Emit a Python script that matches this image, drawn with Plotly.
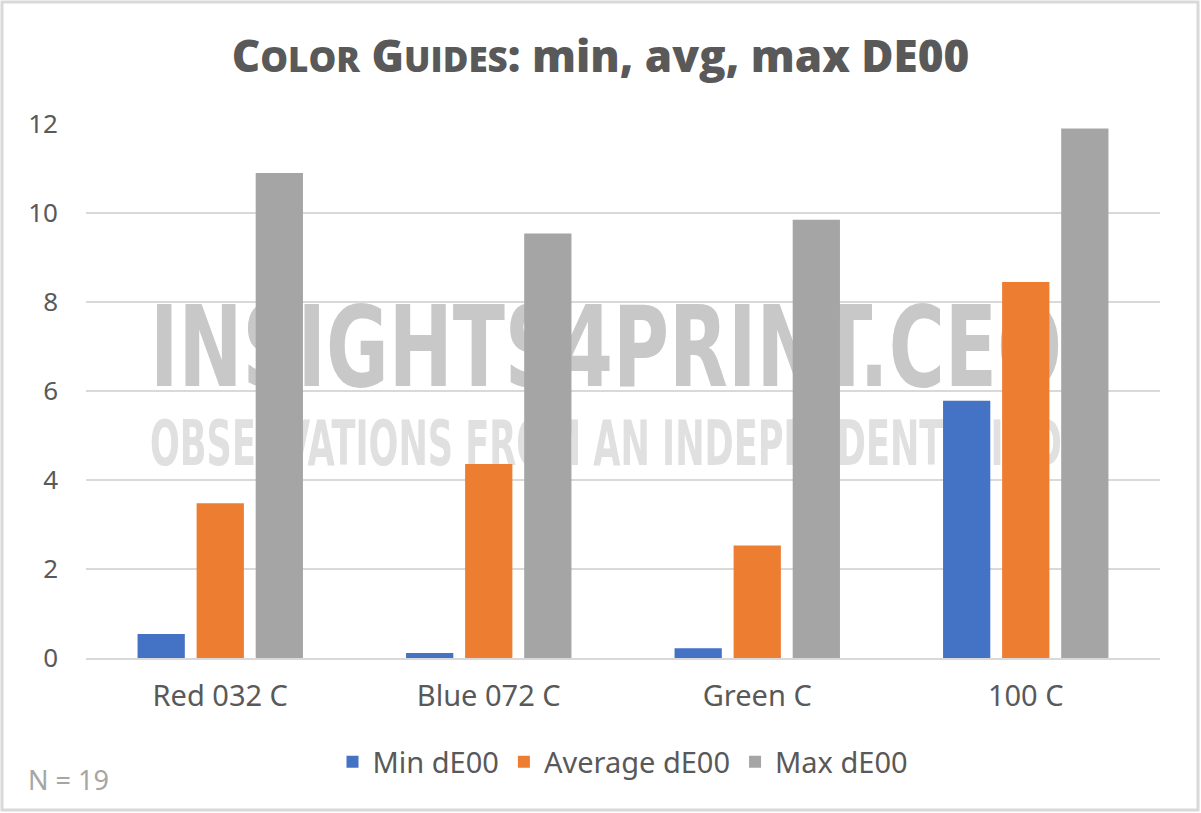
import plotly.graph_objects as go
import urllib.parse

categories = ["Red 032 C", "Blue 072 C", "Green C", "100 C"]
min_de00 = [0.54, 0.11, 0.22, 5.78]
avg_de00 = [3.48, 4.36, 2.53, 8.45]
max_de00 = [10.9, 9.54, 9.85, 11.9]
series_names = ["Min dE00", "Average dE00", "Max dE00"]
colors = ["#4472C4", "#ED7D31", "#A5A5A5"]

W, H = 1201, 813
L, R, T, B = 86, 41, 124, 155
pw, ph = W - L - R, H - T - B

def px_x(p):
    return (p - L) / pw

def px_y(p):
    return (H - B - p) / ph

fig = go.Figure()
for name, vals, c in zip(series_names, [min_de00, avg_de00, max_de00], colors):
    fig.add_trace(go.Bar(x=categories, y=vals, name=name, marker=dict(color=c, line=dict(width=0))))

txt_font = "Noto Sans, Open Sans, sans-serif"
grey = "#595959"

title_text = ("C<span style='font-size:35px'>OLOR</span> G<span style='font-size:35px'>UIDES</span>"
              ": min, avg, max DE00")

svg = (
    "<svg xmlns='http://www.w3.org/2000/svg' width='912' height='172' viewBox='0 0 912 172' preserveAspectRatio='none'>"
    "<text x='0' y='88' font-family='Liberation Sans Narrow, DejaVu Sans Condensed, sans-serif' font-weight='bold' "
    "font-size='112' fill='#c8c8c8' textLength='912' lengthAdjust='spacingAndGlyphs'>INSIGHTS4PRINT.CEO</text>"
    "<text x='0' y='167' font-family='Liberation Sans Narrow, DejaVu Sans Condensed, sans-serif' font-weight='bold' "
    "font-size='62' fill='#e0e0e0' textLength='912' lengthAdjust='spacingAndGlyphs'>OBSERVATIONS FROM AN INDEPENDENT MIND</text>"
    "</svg>"
)
svg_uri = "data:image/svg+xml;charset=utf-8," + urllib.parse.quote(svg)

fig.update_layout(
    width=W, height=H,
    margin=dict(l=L, r=R, t=T, b=B),
    paper_bgcolor="white", plot_bgcolor="white",
    barmode="group", bargap=0.34, bargroupgap=0.2,
    title=dict(text=title_text, x=0.5, xanchor="center", y=1 - 57 / H, yanchor="middle",
               font=dict(family="Open Sans, sans-serif", size=44, color=grey, weight=800)),
    font=dict(family=txt_font, color=grey),
    yaxis=dict(range=[0, 12], tickvals=[0, 2, 4, 6, 8, 10, 12], showgrid=True, gridcolor="#d9d9d9",
               gridwidth=1.5, zeroline=False, showline=False, ticks="",
               tickfont=dict(size=26, color=grey, family=txt_font), ticklabelstandoff=27, fixedrange=True),
    xaxis=dict(showline=True, linecolor="#d9d9d9", linewidth=2, ticks="",
               tickfont=dict(size=29, color=grey, family=txt_font), ticklabelstandoff=11, fixedrange=True),
    legend=dict(orientation="h", x=0.5, xanchor="center", y=px_y(762), yanchor="middle",
                font=dict(size=29, color=grey, family=txt_font), itemclick=False, itemdoubleclick=False,
                traceorder="normal"),
    showlegend=True,
    images=[dict(source=svg_uri, xref="paper", yref="paper", x=px_x(150), y=px_y(298),
                 sizex=912 / pw, sizey=172 / ph, sizing="stretch", xanchor="left", yanchor="top",
                 layer="below", opacity=1)],
    shapes=[dict(type="rect", xref="paper", yref="paper", x0=px_x(2), x1=px_x(1198), y0=px_y(810), y1=px_y(2),
                 line=dict(color="#d9d9d9", width=3), fillcolor="rgba(0,0,0,0)", layer="above")],
    annotations=[dict(text="N = 19", xref="paper", yref="paper", x=px_x(26), y=px_y(780),
                      xanchor="left", yanchor="middle", showarrow=False,
                      font=dict(size=27, color="#a6a6a6", family=txt_font))],
)

fig.write_html("out.html", config={"displayModeBar": False},
               post_script="document.body.style.margin='0';document.body.style.padding='0';")
